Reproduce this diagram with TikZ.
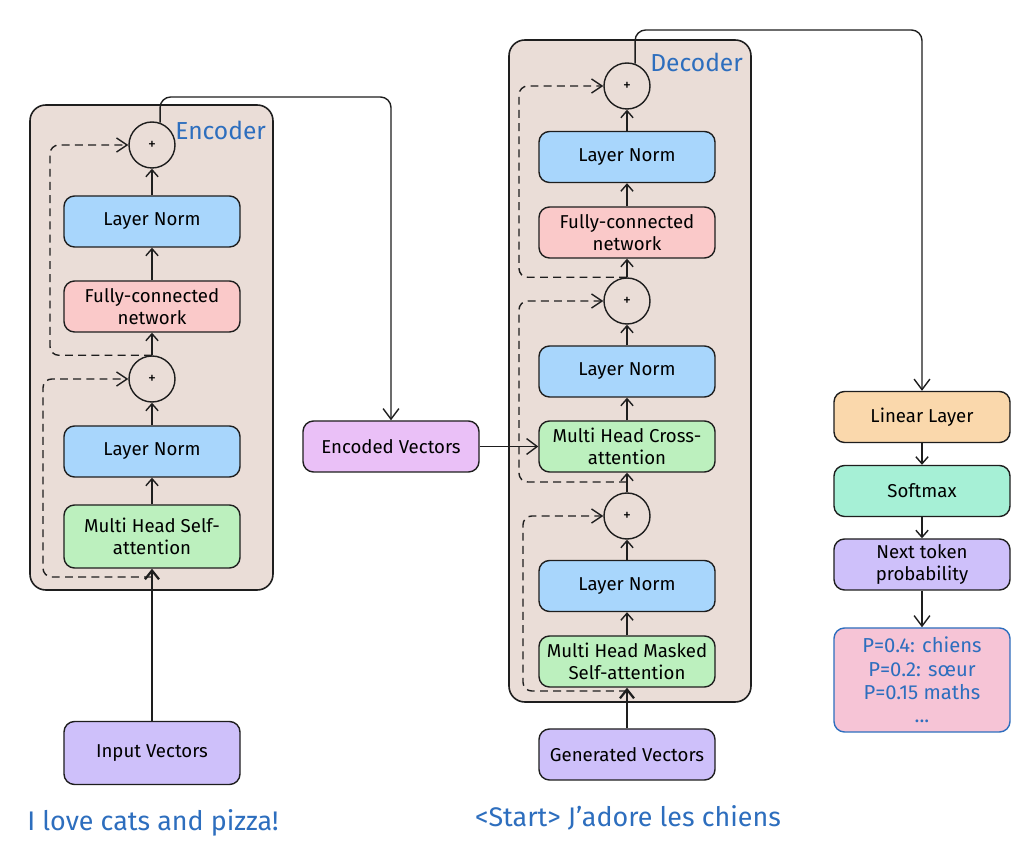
\documentclass[tikz,border=0pt]{standalone}
\usepackage{fontspec}
\setmainfont{Fira Sans}
\usetikzlibrary{arrows.meta, calc}
\definecolor{inkdark}{RGB}{30, 30, 30}
\definecolor{inkblue}{RGB}{45, 110, 190}
\definecolor{stackbg}{RGB}{234, 221, 215}
\definecolor{normblue}{RGB}{168, 214, 252}
\definecolor{fcnred}{RGB}{250, 201, 201}
\definecolor{attgreen}{RGB}{188, 240, 190}
\definecolor{vecviolet}{RGB}{206, 192, 250}
\definecolor{encgrape}{RGB}{234, 192, 247}
\definecolor{linorange}{RGB}{250, 216, 172}
\definecolor{softteal}{RGB}{166, 240, 214}
\definecolor{probpink}{RGB}{246, 196, 214}

\begin{document}
\begin{tikzpicture}[
    block/.style={draw=inkdark, line width=0.8pt, rounded corners=6pt, minimum width=3.52cm, minimum height=1.02cm, inner sep=2pt, align=center, font=\fontsize{10.6}{12.8}\selectfont},
    addnode/.style={circle, draw=inkdark, fill=stackbg, line width=0.8pt, minimum size=0.92cm, inner sep=0pt, font=\small},
    stack/.style={draw=inkdark, fill=stackbg, line width=0.9pt, rounded corners=9pt},
    title/.style={font=\fontsize{14}{16}\selectfont, text=inkblue, anchor=west, inner sep=0pt},
    phrase/.style={font=\fontsize{15.3}{18}\selectfont, text=inkblue},
    flow/.style={draw=inkdark, line width=0.8pt, -{Straight Barb[length=4pt,width=7pt]}},
    feed/.style={draw=inkdark, line width=1.3pt, -{Straight Barb[length=5pt,width=8pt]}},
    link/.style={draw=inkdark, line width=0.8pt, rounded corners=6pt, -{Straight Barb[length=6pt,width=9pt]}},
    resid/.style={draw=inkdark, line width=0.8pt, dash pattern=on 4.5pt off 3pt, rounded corners=5pt, -{Straight Barb[length=6pt,width=8pt]}}
]
    % Fondo y margen
    \path[use as bounding box, fill=white] (0, 0) rectangle (20.48, 17.08);

    % Contenedores
    \draw[stack] (0.60, 5.28) rectangle (5.46, 14.98);
    \draw[stack] (10.18, 3.04) rectangle (15.02, 16.28);
    \node[title] (enclabel) at (3.50, 14.48) {Encoder};
    \node[title] (declabel) at (13.00, 15.84) {Decoder};

    % Encoder
    \node[addnode] (eplus1) at (3.04, 14.18) {+};
    \node[block, fill=normblue] (eln1) at (3.04, 12.65) {Layer Norm};
    \node[block, fill=fcnred] (efcn) at (3.04, 10.95) {Fully-connected\\network};
    \node[addnode] (eplus2) at (3.04, 9.50) {+};
    \node[block, fill=normblue] (eln2) at (3.04, 8.05) {Layer Norm};
    \node[block, fill=attgreen, minimum height=1.26cm] (mhsa) at (3.04, 6.35) {Multi Head Self-\\attention};
    \node[block, fill=vecviolet, minimum height=1.26cm] (input) at (3.04, 2.02) {Input Vectors};
    \node[phrase] (srctext) at (3.06, 0.62) {I love cats and pizza!};

    % Vectores codificados
    \node[block, fill=encgrape] (ev) at (7.82, 8.15) {Encoded Vectors};

    % Decoder
    \node[addnode] (dplus1) at (12.54, 15.36) {+};
    \node[block, fill=normblue] (dln1) at (12.54, 13.94) {Layer Norm};
    \node[block, fill=fcnred] (dfcn) at (12.54, 12.43) {Fully-connected\\network};
    \node[addnode] (dplus2) at (12.54, 11.06) {+};
    \node[block, fill=normblue] (dln2) at (12.54, 9.65) {Layer Norm};
    \node[block, fill=attgreen] (cross) at (12.54, 8.15) {Multi Head Cross-\\attention};
    \node[addnode] (dplus3) at (12.54, 6.76) {+};
    \node[block, fill=normblue] (dln3) at (12.54, 5.36) {Layer Norm};
    \node[block, fill=attgreen] (masked) at (12.54, 3.85) {Multi Head Masked\\Self-attention};
    \node[block, fill=vecviolet] (gen) at (12.54, 1.99) {Generated Vectors};
    \node[phrase] (tgttext) at (12.56, 0.72) {<Start> J'adore les chiens};

    % Salida
    \node[block, fill=linorange] (linear) at (18.44, 8.74) {Linear Layer};
    \node[block, fill=softteal] (softmax) at (18.44, 7.26) {Softmax};
    \node[block, fill=vecviolet] (next) at (18.44, 5.79) {Next token\\probability};
    \node[block, draw=inkblue, fill=probpink, text=inkblue, minimum height=2.08cm, font=\fontsize{11.5}{13.2}\selectfont] (probs) at (18.44, 3.48) {P=0.4: chiens\\P=0.2: sœur\\P=0.15 maths\\...};

    % Flujo del encoder
    \draw[feed] (input.north) -- (mhsa.south);
    \draw[flow] (mhsa.north) -- (eln2.south);
    \draw[flow] (eln2.north) -- (eplus2.south);
    \draw[flow] (eplus2.north) -- (efcn.south);
    \draw[flow] (efcn.north) -- (eln1.south);
    \draw[flow] (eln1.north) -- (eplus1.south);

    % Residuales del encoder
    \coordinate (eskip1) at (3.04, 5.54);
    \coordinate (elane1) at (0.86, 0);
    \coordinate (elane2) at (1.00, 0);
    \draw[resid] (eskip1) -- (eskip1 -| elane1) |- (eplus2.west);
    \draw[resid] (eplus2.north) -- (eplus2.north -| elane2) |- (eplus1.west);

    % Flujo del decoder
    \draw[feed] (gen.north) -- (masked.south);
    \draw[flow] (masked.north) -- (dln3.south);
    \draw[flow] (dln3.north) -- (dplus3.south);
    \draw[flow] (dplus3.north) -- (cross.south);
    \draw[flow] (cross.north) -- (dln2.south);
    \draw[flow] (dln2.north) -- (dplus2.south);
    \draw[flow] (dplus2.north) -- (dfcn.south);
    \draw[flow] (dfcn.north) -- (dln1.south);
    \draw[flow] (dln1.north) -- (dplus1.south);

    % Residuales del decoder
    \coordinate (dskip1) at (12.54, 3.26);
    \coordinate (dskip2) at (12.54, 7.44);
    \coordinate (dlane1) at (10.46, 0);
    \coordinate (dlane2) at (10.38, 0);
    \draw[resid] (dskip1) -- (dskip1 -| dlane1) |- (dplus3.west);
    \draw[resid] (dskip2) -- (dskip2 -| dlane2) |- (dplus2.west);
    \draw[resid] (dplus2.north) -- (dplus2.north -| dlane2) |- (dplus1.west);

    % Conexiones entre bloques
    \coordinate (etop) at (0, 15.14);
    \coordinate (dtop) at (0, 16.48);
    \draw[link] (eplus1.70) -- (eplus1.70 |- etop) -| (ev.north);
    \draw[link] (ev.east) -- (cross.west);
    \draw[link] (dplus1.70) -- (dplus1.70 |- dtop) -| (linear.north);
    \draw[flow] (linear.south) -- (softmax.north);
    \draw[flow] (softmax.south) -- (next.north);
    \draw[link] (next.south) -- (probs.north);
\end{tikzpicture}
\end{document}
